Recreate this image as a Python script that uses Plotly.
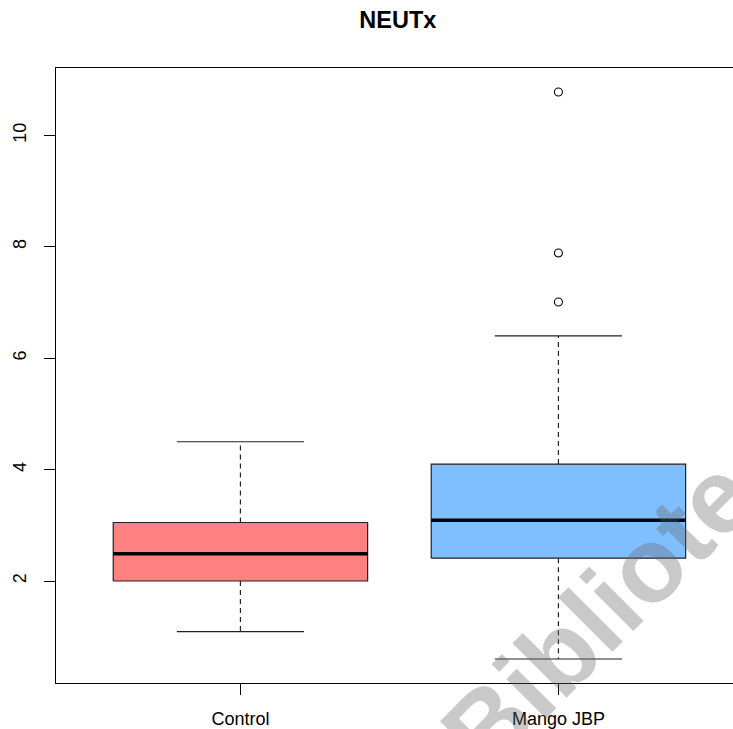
import plotly.graph_objects as go

# ---- data ----
groups = ["Control", "Mango JBP"]
positions = [1, 2]
q1 = [2.00, 2.41]
median = [2.49, 3.09]
q3 = [3.05, 4.10]
lower_whisker = [1.09, 0.60]
upper_whisker = [4.50, 6.40]
outliers = [[], [10.78, 7.89, 7.01]]
fill_colors = ["#FF8080", "#80BFFF"]
y_ticks = [2, 4, 6, 8, 10]

box_w = 0.8
cap_w = 0.4

fig = go.Figure()

for p, a, m, b, lo, hi, outs, col in zip(positions, q1, median, q3,
                                         lower_whisker, upper_whisker,
                                         outliers, fill_colors):
    # dashed whiskers
    fig.add_trace(go.Scatter(x=[p, p, None, p, p], y=[b, hi, None, a, lo],
                             mode="lines", line=dict(color="#222", width=1.2, dash="5px,4px"),
                             hoverinfo="skip", showlegend=False))
    # caps
    fig.add_trace(go.Scatter(x=[p - cap_w / 2, p + cap_w / 2, None, p - cap_w / 2, p + cap_w / 2],
                             y=[hi, hi, None, lo, lo],
                             mode="lines", line=dict(color="#222", width=1.2),
                             hoverinfo="skip", showlegend=False))
    # box
    fig.add_trace(go.Scatter(x=[p - box_w / 2, p + box_w / 2, p + box_w / 2, p - box_w / 2, p - box_w / 2],
                             y=[a, a, b, b, a], mode="lines", fill="toself",
                             fillcolor=col, line=dict(color="#222", width=1.2),
                             hoverinfo="skip", showlegend=False))
    # median
    fig.add_trace(go.Scatter(x=[p - box_w / 2, p + box_w / 2], y=[m, m], mode="lines",
                             line=dict(color="black", width=3.5),
                             hoverinfo="skip", showlegend=False))
    # outliers
    if outs:
        fig.add_trace(go.Scatter(x=[p] * len(outs), y=outs, mode="markers",
                                 marker=dict(symbol="circle-open", size=8,
                                             color="black", line=dict(width=1.1)),
                                 hoverinfo="skip", showlegend=False))

# watermark: centre at window (640, 572)
fig.add_annotation(text="<b>Biblioteca</b>", xref="paper", yref="paper",
                   x=(640 - 56) / 677, y=(683 - 572) / 615,
                   xanchor="center", yanchor="middle",
                   showarrow=False, textangle=-45,
                   font=dict(family="Liberation Sans, Arial", size=106,
                             color="rgba(100,100,100,0.35)"))

fig.update_layout(
    width=733, height=729,
    margin=dict(l=56, r=0, t=68, b=46),
    paper_bgcolor="white", plot_bgcolor="white",
    font=dict(family="Liberation Sans, Arial", size=18, color="black"),
    title=dict(text="<b>NEUTx</b>", x=0.505, xref="paper", xanchor="center",
               y=1 - 20 / 729, yanchor="middle",
               font=dict(size=23.5, family="Liberation Sans, Arial", color="black")),
    showlegend=False,
)
fig.update_xaxes(range=[0.42, 2.549], tickmode="array", tickvals=positions, ticktext=groups,
                 showgrid=False, zeroline=False, showline=True, mirror=True,
                 linecolor="black", linewidth=1.2, ticks="outside", ticklen=11,
                 tickcolor="black", tickwidth=1.2, ticklabelstandoff=8)
fig.update_yaxes(range=[0.169, 11.21], tickmode="array", tickvals=y_ticks,
                 ticktext=[str(t) for t in y_ticks],
                 showgrid=False, zeroline=False, showline=True, mirror=False,
                 linecolor="black", linewidth=1.2, ticks="outside", ticklen=11,
                 tickcolor="black", tickwidth=1.2, tickangle=-90, ticklabelstandoff=11)

fig.write_html("out.html", config={"displayModeBar": False},
               post_script="document.body.style.margin='0';document.body.style.overflow='hidden';")
